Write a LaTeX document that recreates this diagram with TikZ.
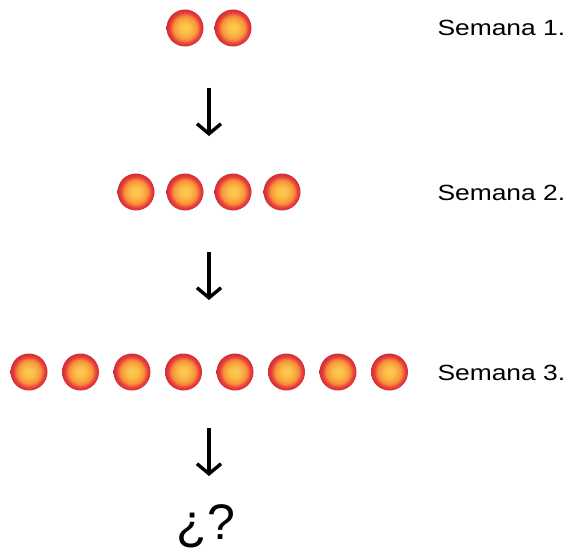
\documentclass[tikz,border=0pt]{standalone}
\usepackage{fontspec}
\setmainfont{Liberation Sans}
\newfontfamily\hand[FakeStretch=1.2]{Liberation Sans}
\usetikzlibrary{arrows.meta}
\definecolor{ballin}{RGB}{253,205,80}
\definecolor{ballmid}{RGB}{247,145,55}
\definecolor{ballout}{RGB}{236,58,62}
\pgfdeclareradialshading{ballshade}{\pgfpoint{0bp}{0bp}}{color(0bp)=(ballin); color(8bp)=(ballin!70!ballmid); color(16bp)=(ballmid); color(21bp)=(ballout); color(25bp)=(ballout!85!black); color(50bp)=(ballout!85!black)}
\tikzset{
  ball/.style={circle, minimum size=37pt, inner sep=0pt, shading=ballshade},
  lbl/.style={font=\hand\fontsize{22}{24}\selectfont, anchor=west},
  flow/.style={line width=3.6pt, -{Straight Barb[length=10pt,width=24pt,line width=3.4pt]}},
}
\begin{document}
\begin{tikzpicture}[x=1pt,y=-1pt]
\useasboundingbox (0,0) rectangle (567,559);
% row 1
\foreach \i/\x in {1/185,2/233} \node[ball] (a\i) at (\x,28) {};
% row 2
\foreach \i/\x in {1/136,2/185,3/233,4/282} \node[ball] (b\i) at (\x,192) {};
% row 3
\foreach \i in {1,...,8} \node[ball] (c\i) at ({29+51.5*(\i-1)},372) {};
% labels
\node[lbl] (l1) at (434,28) {Semana 1.};
\node[lbl] (l2) at (434,193) {Semana 2.};
\node[lbl] (l3) at (434,373) {Semana 3.};
% question
\node[font=\fontsize{50}{54}\selectfont] (q) at (206,526) {¿?};
% arrows
\coordinate (s1) at (209,88); \coordinate (e1) at (209,136);
\coordinate (s2) at (209,252); \coordinate (e2) at (209,300);
\coordinate (s3) at (209,428); \coordinate (e3) at (209,476);
\draw[flow] (s1) -- (e1);
\draw[flow] (s2) -- (e2);
\draw[flow] (s3) -- (e3);
\end{tikzpicture}
\end{document}
